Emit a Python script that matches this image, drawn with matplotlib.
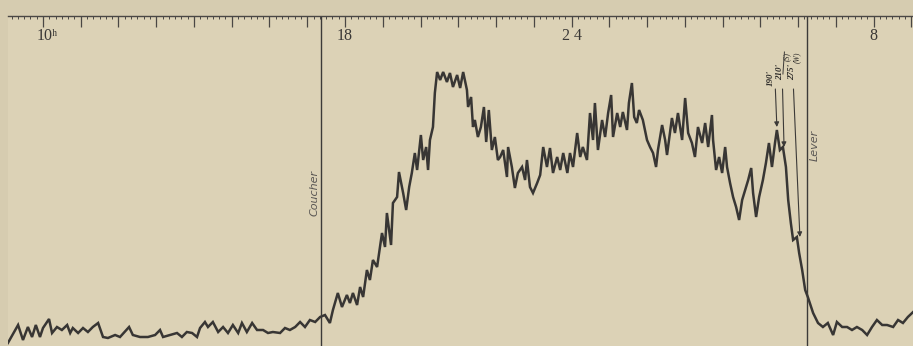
import matplotlib.pyplot as plt
from matplotlib.ticker import MultipleLocator

# recording trace, time in hours (24+ = next morning), deflection in arbitrary units
hours = [
    9.07, 9.34, 9.47, 9.60, 9.71, 9.81, 9.92, 10.00, 10.16, 10.24, 10.37, 10.50, 10.64, 10.72,
    10.79, 10.93, 11.06, 11.19, 11.32, 11.46, 11.59, 11.72, 11.91, 12.04, 12.28, 12.38, 12.57,
    12.78, 12.97, 13.10, 13.18, 13.36, 13.55, 13.68, 13.81, 13.95, 14.08, 14.16, 14.29, 14.37,
    14.50, 14.64, 14.77, 14.90, 15.03, 15.17, 15.27, 15.40, 15.54, 15.67, 15.83, 15.96, 16.09,
    16.28, 16.41, 16.54, 16.68, 16.81, 16.94, 17.07, 17.21, 17.34, 17.47, 17.60, 17.68, 17.81,
    17.92, 18.05, 18.13, 18.21, 18.32, 18.40, 18.48, 18.58, 18.66, 18.74, 18.85, 18.98, 19.06,
    19.11, 19.22, 19.27, 19.38, 19.43, 19.54, 19.62, 19.70, 19.77, 19.85, 19.91, 20.01, 20.07,
    20.15, 20.20, 20.25, 20.33, 20.38, 20.44, 20.52, 20.60, 20.70, 20.78, 20.86, 20.97, 21.05,
    21.13, 21.23, 21.26, 21.34, 21.39, 21.44, 21.52, 21.60, 21.68, 21.74, 21.81, 21.89, 21.97,
    22.05, 22.11, 22.19, 22.29, 22.32, 22.42, 22.50, 22.58, 22.69, 22.77, 22.82, 22.90, 22.98,
    23.09, 23.17, 23.25, 23.35, 23.43, 23.51, 23.62, 23.70, 23.78, 23.89, 23.96, 24.04, 24.15,
    24.23, 24.30, 24.41, 24.49, 24.57, 24.62, 24.70, 24.81, 24.89, 24.97, 25.05, 25.10, 25.21,
    25.29, 25.36, 25.47, 25.52, 25.60, 25.66, 25.73, 25.79, 25.89, 26.00, 26.08, 26.16, 26.24,
    26.29, 26.40, 26.48, 26.53, 26.66, 26.74, 26.82, 26.93, 27.01, 27.09, 27.19, 27.27, 27.35,
    27.46, 27.54, 27.62, 27.72, 27.75, 27.83, 27.91, 27.99, 28.07, 28.12, 28.20, 28.28, 28.36,
    28.44, 28.52, 28.60, 28.68, 28.76, 28.81, 28.89, 28.97, 29.07, 29.15, 29.23, 29.31, 29.39,
    29.44, 29.52, 29.60, 29.68, 29.74, 29.81, 29.87, 29.97, 30.03, 30.11, 30.19, 30.26, 30.40,
    30.53, 30.66, 30.79, 30.93, 31.03, 31.17, 31.30, 31.43, 31.56, 31.70, 31.83, 31.96, 32.09,
    32.23, 32.36, 32.52, 32.65, 32.78, 32.91, 33.05,
]
deflection = [
    -3, 15, 0, 13, 3, 15, 3, 12, 21, 7, 13, 10, 15, 7,
    12, 7, 12, 8, 13, 17, 3, 2, 5, 3, 13, 5, 3,
    3, 5, 10, 3, 5, 7, 3, 8, 7, 3, 12, 18, 13,
    18, 8, 13, 7, 15, 7, 17, 8, 17, 10, 10, 7, 8,
    7, 12, 10, 13, 18, 13, 20, 18, 23, 25, 17, 30, 47,
    33, 45, 37, 47, 35, 53, 43, 70, 60, 80, 73, 107, 93,
    127, 95, 137, 143, 168, 147, 130, 153, 167, 187, 170, 205, 180,
    193, 170, 200, 213, 247, 268, 260, 268, 258, 267, 253, 265, 252,
    268, 250, 233, 243, 213, 220, 203, 213, 233, 198, 230, 190, 203,
    180, 183, 190, 163, 193, 173, 152, 167, 173, 160, 180, 153, 147,
    157, 165, 193, 173, 192, 167, 183, 170, 187, 167, 187, 173, 207,
    183, 193, 180, 227, 200, 237, 190, 220, 203, 227, 245, 203, 227,
    213, 228, 210, 237, 257, 223, 217, 230, 220, 200, 193, 187, 173,
    190, 215, 200, 185, 222, 207, 227, 200, 242, 207, 197, 183, 213,
    197, 217, 193, 225, 200, 170, 183, 167, 193, 173, 157, 143, 133,
    120, 140, 150, 160, 172, 147, 123, 143, 160, 177, 197, 173, 197,
    210, 190, 193, 173, 140, 117, 100, 103, 87, 70, 50, 43, 27,
    17, 13, 17, 5, 18, 13, 13, 10, 13, 10, 5, 13, 20,
    15, 15, 13, 20, 17, 23, 28,
]

hour_labels = {10: '10ʰ', 18: '18', 24: '2 4', 32: '8'}
sunset = 17.36   # Coucher
sunrise = 30.24  # Lever

arrow_labels = ["190'", "210'", "275'"]
arrow_start_hours = [29.40, 29.59, 29.88]
arrow_hours = [29.44, 29.63, 30.05]
arrow_tips = [213, 193, 103]
label_hours = [29.29, 29.52, 29.84]
label_levels = [262, 268, 268]
group_labels = ['(S)', '(W)']
group_hours = [29.70, 29.98]

paper = '#dcd2b6'
ink = '#383634'

fig = plt.figure(figsize=(9.13, 3.46), dpi=100, facecolor='#d6ccb0')
ax = fig.add_axes([8 / 913, 0, 905 / 913, 330 / 346])
ax.set_facecolor(paper)
ax.set_xlim(9.073, 33.046)
ax.set_ylim(-6, 324)

for side in ['left', 'right', 'bottom']:
    ax.spines[side].set_visible(False)
ax.spines['top'].set_color('#4a4744')
ax.spines['top'].set_linewidth(1.0)

ax.xaxis.set_ticks_position('top')
ax.xaxis.set_major_locator(MultipleLocator(1))
ax.xaxis.set_minor_locator(MultipleLocator(1 / 6))
ax.tick_params(axis='x', which='major', direction='in', length=8, width=0.9,
               color='#4a4744', labeltop=False)
ax.tick_params(axis='x', which='minor', direction='in', length=2.5, width=0.7,
               color='#4a4744')
ax.set_yticks([])

serif = ['Liberation Serif', 'DejaVu Serif']
for h, txt in hour_labels.items():
    ax.text(h + (0.1 if h == 10 else 0), 304, txt, ha='center', va='center',
            fontsize=11.5, family=serif, color='#3a3836')

ax.plot(hours, deflection, color=ink, lw=1.8, solid_joinstyle='miter')

ax.vlines([sunset, sunrise], -6, 324, color='#3c3a38', lw=1.0)
ax.text(sunset - 0.16, 147, 'Coucher', rotation=90, ha='center', va='center',
        fontsize=8, style='italic', color='#5a5754')
ax.text(sunrise + 0.2, 195, 'Lever', rotation=90, ha='center', va='center',
        fontsize=8, style='italic', color='#5a5754')

for h0, h, tip in zip(arrow_start_hours, arrow_hours, arrow_tips):
    ax.annotate('', xy=(h, tip), xytext=(h0, 251),
                arrowprops=dict(arrowstyle='-|>', lw=0.8, color='#3c3a38',
                                mutation_scale=7, shrinkA=0, shrinkB=0))
for h, lvl, txt in zip(label_hours, label_levels, arrow_labels):
    ax.text(h, lvl, txt, rotation=90, ha='center', va='center', fontsize=6.5,
            family=serif, weight='bold', style='italic', color='#2e2c2a')
for h, txt in zip(group_hours, group_labels):
    ax.text(h, 283, txt, rotation=90, ha='center', va='center', fontsize=5.5,
            family=serif, style='italic', color='#2e2c2a')
# brace joining 190' and 210' to (S)
ax.plot([29.60, 29.64], [266, 288], color='#3c3a38', lw=0.7)

fig.savefig('out.png', dpi=100, facecolor=fig.get_facecolor())
